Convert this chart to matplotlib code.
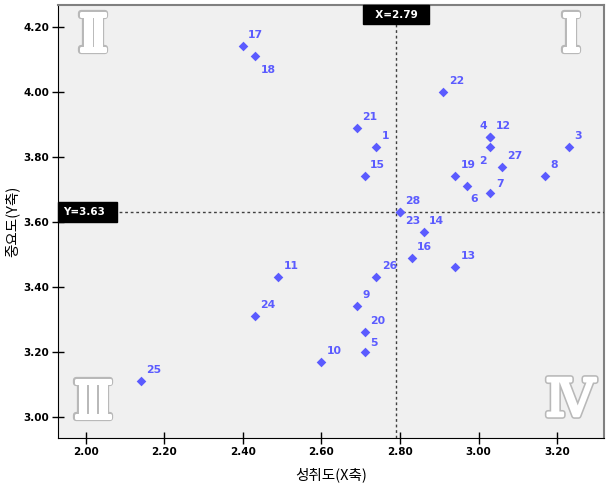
import matplotlib
matplotlib.use("Agg")
import matplotlib.pyplot as plt
import matplotlib.patheffects as pe

# ---- data ----
labels = ["1", "2", "3", "4", "5", "6", "7", "8", "9", "10",
          "11", "12", "13", "14", "15", "16", "17", "18", "19", "20",
          "21", "22", "23", "24", "25", "26", "27", "28"]
x_vals = [2.74, 3.03, 3.23, 3.03, 2.71, 2.97, 3.03, 3.17, 2.69, 2.60,
          2.49, 3.03, 2.94, 2.86, 2.71, 2.83, 2.40, 2.43, 2.94, 2.71,
          2.69, 2.91, 2.80, 2.43, 2.14, 2.74, 3.06, 2.80]
y_vals = [3.83, 3.83, 3.83, 3.86, 3.20, 3.71, 3.69, 3.74, 3.34, 3.17,
          3.43, 3.86, 3.46, 3.57, 3.74, 3.49, 4.14, 4.11, 3.74, 3.26,
          3.89, 4.00, 3.63, 3.31, 3.11, 3.43, 3.77, 3.63]
x_mean = 2.79
y_mean = 3.63
x_ticks = [2.00, 2.20, 2.40, 2.60, 2.80, 3.00, 3.20]
y_ticks = [3.00, 3.20, 3.40, 3.60, 3.80, 4.00, 4.20]
quadrants = ["Ⅰ", "Ⅱ", "Ⅲ", "Ⅳ"]

# label placement (offsets in pixels, alignment)
special = {
    "18": (6, -9, "left", "top"),
    "4": (-3, 6, "right", "bottom"),
    "2": (-4, -9, "right", "top"),
    "6": (4, -8, "left", "top"),
    "23": (5, -4, "left", "top"),
    "7": (6, 4, "left", "bottom"),
    "5": (6, 4, "left", "bottom"),
}

DPI = 100
fig = plt.figure(figsize=(6.08, 4.87), dpi=DPI)
ax = fig.add_axes([0.0949, 0.1000, 0.8990, 0.8903])
ax.set_facecolor("#f0f0f0")

col = "#5b5bff"
ax.scatter(x_vals, y_vals, marker="D", s=24, color=col, zorder=4, linewidths=0)

px2pt = 72.0 / DPI
for lab, xv, yv in zip(labels, x_vals, y_vals):
    dx, dy, ha, va = special.get(lab, (5.5, 6, "left", "bottom"))
    ax.annotate(lab, (xv, yv), xytext=(dx * px2pt, dy * px2pt), textcoords="offset points",
                ha=ha, va=va, fontsize=7.8, color=col, family="DejaVu Sans",
                fontweight="bold", zorder=5)

# reference lines
ax.axvline(x_mean, color="#404040", lw=1, ls=(0, (2, 2)), zorder=3)
ax.axhline(y_mean, color="#404040", lw=1, ls=(0, (2, 2)), zorder=3)

ax.set_xlim(1.929, 3.32)
ax.set_ylim(2.934, 4.268)
ax.set_xticks(x_ticks)
ax.set_xticklabels([f"{v:.2f}" for v in x_ticks])
ax.set_yticks(y_ticks)
ax.set_yticklabels([f"{v:.2f}" for v in y_ticks])
ax.tick_params(axis="both", direction="inout", length=8, width=1, color="black",
               labelsize=7.5, pad=2)
for t in ax.get_xticklabels() + ax.get_yticklabels():
    t.set_fontweight("bold")

ax.spines["left"].set_color("black")
ax.spines["bottom"].set_color("black")
ax.spines["top"].set_color("#808080")
ax.spines["right"].set_color("#808080")
ax.spines["top"].set_linewidth(1.5)
ax.spines["right"].set_linewidth(1.5)

ax.set_xlabel("성취도(X축)", family=["Noto Sans CJK KR", "DejaVu Sans"], fontsize=10.5, labelpad=8)
ax.set_ylabel("중요도(Y축)", family=["Noto Sans CJK KR", "DejaVu Sans"], fontsize=10.5, labelpad=3)

# mean boxes
box = dict(boxstyle="square,pad=0.45", fc="black", ec="black")
ax.annotate("  X=2.79  ", (x_mean, 1.0), xycoords=("data", "axes fraction"),
            xytext=(0, -5 * px2pt), textcoords="offset points",
            ha="center", va="top", color="white", fontsize=7.5, fontweight="bold",
            bbox=box, zorder=6)
ax.annotate("Y=3.63  ", (0.0, y_mean), xycoords=("axes fraction", "data"),
            xytext=(5 * px2pt, 0), textcoords="offset points",
            ha="left", va="center", color="white", fontsize=7.5, fontweight="bold",
            bbox=box, zorder=6)

# quadrant numerals
effects = [pe.withStroke(linewidth=4.5, foreground="#b8b8b8"),
           pe.withStroke(linewidth=2.2, foreground="white")]
qpos = [(571, 37), (93, 37), (93, 404), (570, 402)]
W, H = 608, 487
for q, (qx, qy) in zip(quadrants, qpos):
    fig.text(qx / W, 1 - qy / H, q, ha="center", va="center", fontsize=37,
             family=["DejaVu Serif"], color="white",
             path_effects=effects, zorder=2)

fig.savefig("out.png", dpi=DPI)
